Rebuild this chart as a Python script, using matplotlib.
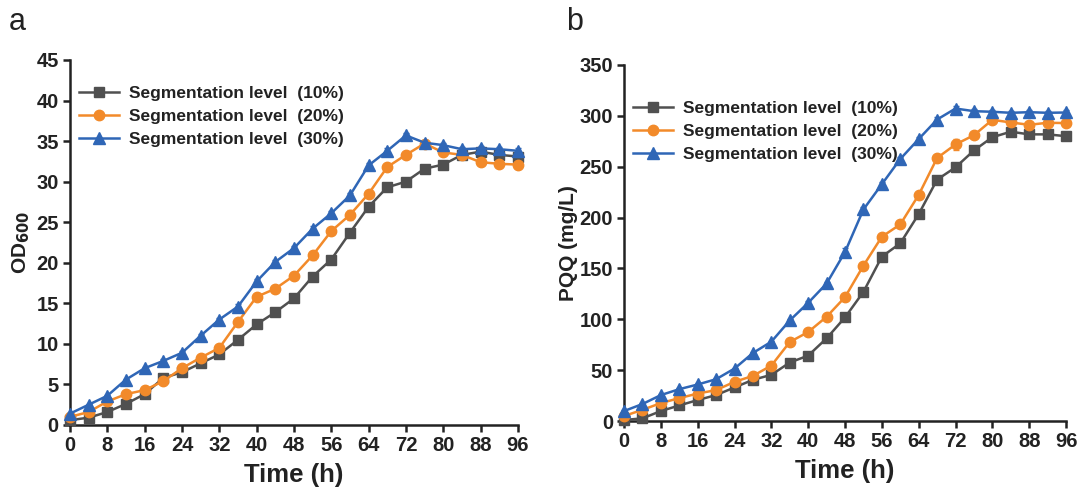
import matplotlib
matplotlib.use("Agg")
import matplotlib.pyplot as plt
import numpy as np

plt.rcParams['font.family'] = ['Liberation Sans', 'DejaVu Sans']

time_h = [0, 4, 8, 12, 16, 20, 24, 28, 32, 36, 40, 44, 48, 52, 56, 60, 64, 68, 72, 76, 80, 84, 88, 92, 96]
x_ticks = list(range(0, 97, 8))
labels = ["Segmentation level  (10%)", "Segmentation level  (20%)", "Segmentation level  (30%)"]

od_10 = [0.6, 0.9, 1.6, 2.6, 3.8, 5.8, 6.5, 7.6, 8.7, 10.5, 12.4, 13.9, 15.6, 18.3, 20.4, 23.7, 26.9, 29.3, 30.0, 31.6, 32.1, 33.3, 33.7, 33.3, 33.1]
od_20 = [1.0, 1.6, 2.9, 3.8, 4.3, 5.4, 7.0, 8.3, 9.5, 12.7, 15.8, 16.8, 18.4, 20.9, 23.9, 25.9, 28.5, 31.8, 33.3, 34.7, 33.6, 33.3, 32.4, 32.2, 32.1]
od_30 = [1.4, 2.5, 3.6, 5.6, 7.0, 7.9, 8.9, 11.0, 13.0, 14.6, 17.7, 20.1, 21.8, 24.2, 26.1, 28.3, 32.0, 33.8, 35.7, 34.8, 34.5, 34.0, 34.1, 34.0, 33.8]
od_err_10 = [0.1, 0.1, 0.1, 0.1, 0.1, 0.2, 0.2, 0.2, 0.2, 0.2, 0.3, 0.3, 0.3, 0.3, 0.3, 0.3, 0.3, 0.3, 0.3, 0.3, 0.3, 0.3, 0.3, 0.3, 0.3]
od_err_20 = [0.1, 0.1, 0.1, 0.1, 0.1, 0.2, 0.2, 0.2, 0.3, 0.3, 0.3, 0.3, 0.4, 0.6, 0.3, 0.6, 0.3, 0.3, 0.3, 0.3, 0.3, 0.3, 0.3, 0.3, 0.3]
od_err_30 = [0.1, 0.1, 0.1, 0.1, 0.1, 0.2, 0.2, 0.2, 0.2, 0.3, 0.3, 0.3, 0.3, 0.3, 0.3, 0.3, 0.3, 0.3, 0.3, 0.3, 0.3, 0.3, 0.3, 0.3, 0.3]

pqq_10 = [1, 2.6, 9.8, 15.3, 20.6, 25.5, 33, 40.5, 45.4, 57.5, 64.3, 81.3, 101.9, 127, 161.6, 174.7, 203.4, 237.3, 249.4, 266, 279, 284.4, 281.8, 281.8, 280]
pqq_20 = [4.9, 11, 17.6, 22.5, 27, 30.4, 38.5, 44.4, 54.5, 77.7, 87.5, 102.5, 121.8, 152.8, 181.2, 193.3, 222.3, 258.6, 271.9, 281, 296.1, 293.5, 291.2, 293.2, 292.9]
pqq_30 = [9.8, 16.7, 25.5, 31.3, 35.9, 41.1, 51.6, 66.9, 78, 98.9, 116.2, 135.2, 166.2, 208, 232.8, 257.6, 277.2, 296.4, 307.2, 304.6, 304, 303, 303.6, 303, 303.3]
pqq_err_10 = [1, 1, 1, 1, 1, 1, 1, 1, 1, 1, 1.5, 1.5, 1.5, 2, 2, 2, 2, 2, 2, 2, 2, 2, 2, 2, 2]
pqq_err_20 = [1, 1, 1, 1, 1, 1, 1, 1, 1, 1, 1.5, 1.5, 1.5, 2, 2, 2, 2, 2, 5, 2, 2, 2, 2, 2, 2]
pqq_err_30 = [1, 1, 1, 1, 1, 1, 1, 1, 1, 1, 1.5, 1.5, 4, 2, 2, 2, 2, 2, 2, 2, 2, 2, 2, 2, 2]

colors = ['#505050', '#F28A2A', '#2F66B6']
markers = ['s', 'o', '^']
msizes = [6.5, 7.5, 8]

fig = plt.figure(figsize=(10.78, 4.92), dpi=100)
axA = fig.add_axes([0.0649, 0.1362, 0.4155, 0.7419])
axB = fig.add_axes([0.5789, 0.1443, 0.4100, 0.7236])


def draw(ax, series, errs, ylim, ystep, ylabel, leg_anchor, ylabelpad):
    for s, e, c, m, ms, lab in zip(series, errs, colors, markers, msizes, labels):
        ax.errorbar(time_h, s, yerr=e, color=c, marker=m, markersize=ms, lw=1.8,
                    capsize=2.5, elinewidth=1.0, capthick=1.0, label=lab, clip_on=False, zorder=3)
    ax.set_xlim(0, 96)
    ax.set_ylim(*ylim)
    ax.set_xticks(x_ticks)
    ax.set_yticks(np.arange(ylim[0], ylim[1] + 1e-9, ystep))
    for sp in ['top', 'right']:
        ax.spines[sp].set_visible(False)
    for sp in ['left', 'bottom']:
        ax.spines[sp].set_linewidth(1.8)
        ax.spines[sp].set_color('#222222')
    ax.tick_params(width=1.8, length=5, labelsize=14.5, color='#222222', labelcolor='#222222', pad=3)
    for t in ax.get_xticklabels() + ax.get_yticklabels():
        t.set_fontweight('bold')
    ax.set_xlabel('Time (h)', fontsize=18.5, fontweight='bold', color='#222222', labelpad=6)
    ax.set_ylabel(ylabel, fontsize=15, fontweight='bold', color='#222222', labelpad=ylabelpad)
    handles, labs = ax.get_legend_handles_labels()
    handles = [h[0] for h in handles]
    leg = ax.legend(handles, labs, loc='upper left', bbox_to_anchor=leg_anchor, frameon=False,
                    prop={'size': 12.5, 'weight': 'bold'}, handlelength=2.3, handletextpad=0.6,
                    labelspacing=0.45, borderaxespad=0, borderpad=0)
    for t in leg.get_texts():
        t.set_color('#222222')


draw(axA, [od_10, od_20, od_30], [od_err_10, od_err_20, od_err_30], (0, 45), 5,
     r'OD$_{\mathbf{600}}$', (0.02, 0.93), 3)
draw(axB, [pqq_10, pqq_20, pqq_30], [pqq_err_10, pqq_err_20, pqq_err_30], (0, 350), 50,
     'PQQ (mg/L)', (0.02, 0.90), 1)

fig.text(0.008, 0.955, 'a', fontsize=22, va='center', ha='left', color='#222222')
fig.text(0.525, 0.955, 'b', fontsize=22, va='center', ha='left', color='#222222')

fig.savefig('out.png', dpi=100)
